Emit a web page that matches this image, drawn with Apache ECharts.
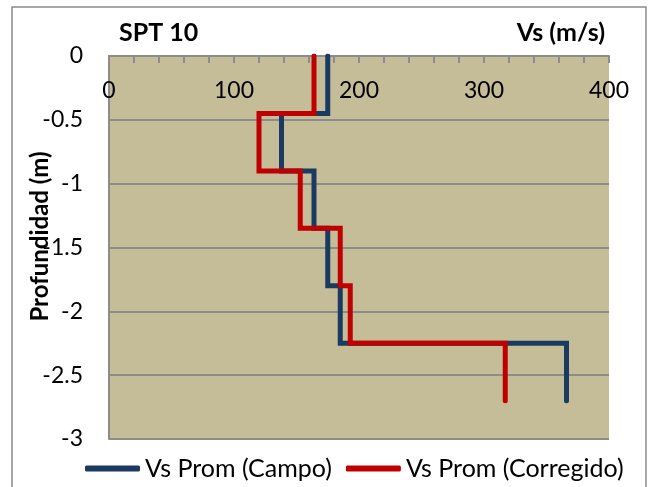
<!DOCTYPE html>
<html>
<head>
<meta charset="utf-8">
<script src="https://cdn.jsdelivr.net/npm/echarts@6/dist/echarts.min.js"></script>
<style>
  html, body { margin: 0; padding: 0; background: #ffffff; }
  #chart { width: 665px; height: 487px; }
</style>
</head>
<body>
<div id="chart"></div>
<script>
// Layer boundaries (depth, m) and average shear-wave velocity per layer (m/s)
var layerTops    = [0, 0.45, 0.9, 1.35, 1.8, 2.25];
var layerBottoms = [0.45, 0.9, 1.35, 1.8, 2.25, 2.7];
var vsCampo      = [175, 138, 164, 175, 185, 366];
var vsCorregido  = [164, 120, 153, 185, 193, 317];
var seriesNames  = ['Vs Prom (Campo)', 'Vs Prom (Corregido)'];
var xTicks       = [0, 100, 200, 300, 400];

// Build a stepped profile: each layer is a vertical segment at its velocity
function stepProfile(values) {
  var pts = [];
  for (var i = 0; i < values.length; i++) {
    pts.push([values[i], -layerTops[i]]);
    pts.push([values[i], -layerBottoms[i]]);
  }
  return pts;
}

var FONT = 'Lato, "Open Sans", sans-serif';
var chart = echarts.init(document.getElementById('chart'));

chart.setOption({
  backgroundColor: '#ffffff',
  animation: false,
  graphic: [{
    type: 'rect',
    shape: { x: 12, y: 7, width: 634, height: 500 },
    style: { fill: 'none', stroke: '#8c8c8c', lineWidth: 1.5 },
    z: -10
  }, {
    type: 'text',
    left: 119, top: 20,
    style: { text: 'SPT 10', font: 'bold 25px ' + FONT, fill: '#000' }
  }, {
    type: 'text',
    right: 60, top: 20,
    style: { text: 'Vs (m/s)', font: 'bold 25px ' + FONT, fill: '#000' }
  }],
  legend: {
    left: 80, top: 451,
    itemWidth: 55, itemHeight: 6,
    itemGap: 14,
    icon: 'roundRect',
    textStyle: { fontFamily: FONT, fontSize: 25, color: '#000' },
    data: seriesNames
  },
  grid: {
    left: 109, right: 56, top: 56, bottom: 48,
    show: true, backgroundColor: '#C4BD97', borderWidth: 0
  },
  xAxis: {
    type: 'value',
    position: 'top',
    min: xTicks[0], max: xTicks[xTicks.length - 1], interval: 100,
    axisLine: { show: true, onZero: false, lineStyle: { color: '#8c8c8c', width: 2 } },
    axisTick: { show: true, inside: true, length: 7, lineStyle: { color: '#8c8c8c', width: 2 } },
    minorTick: { show: true, splitNumber: 5, length: 7, lineStyle: { color: '#8c8c8c', width: 2 } },
    splitLine: { show: false },
    axisLabel: {
      inside: true, margin: 23,
      fontFamily: FONT, fontSize: 23, color: '#000',
      showMaxLabel: true, showMinLabel: true
    }
  },
  yAxis: {
    type: 'value',
    min: -3, max: 0, interval: 0.5,
    name: 'Profundidad (m)',
    nameLocation: 'middle',
    nameGap: 57,
    nameRotate: 90,
    nameMoveOverlap: false,
    nameTextStyle: {
      fontFamily: FONT, fontSize: 24, fontWeight: 'bold', color: '#000',
      padding: [0, 0, 0, 22]
    },
    axisLine: { show: true, lineStyle: { color: '#8c8c8c', width: 2 } },
    axisTick: { show: false },
    splitLine: { show: true, lineStyle: { color: '#8c8c8c', width: 2 } },
    axisLabel: { margin: 26, fontFamily: FONT, fontSize: 23, color: '#000' }
  },
  series: [{
    name: seriesNames[0],
    type: 'line',
    data: stepProfile(vsCampo),
    showSymbol: false,
    color: '#1B3A61',
    lineStyle: { width: 5, color: '#1B3A61', cap: 'round', join: 'miter' },
    z: 2
  }, {
    name: seriesNames[1],
    type: 'line',
    data: stepProfile(vsCorregido),
    showSymbol: false,
    color: '#C00000',
    lineStyle: { width: 5, color: '#C00000', cap: 'round', join: 'miter' },
    z: 3
  }]
});
</script>
</body>
</html>
